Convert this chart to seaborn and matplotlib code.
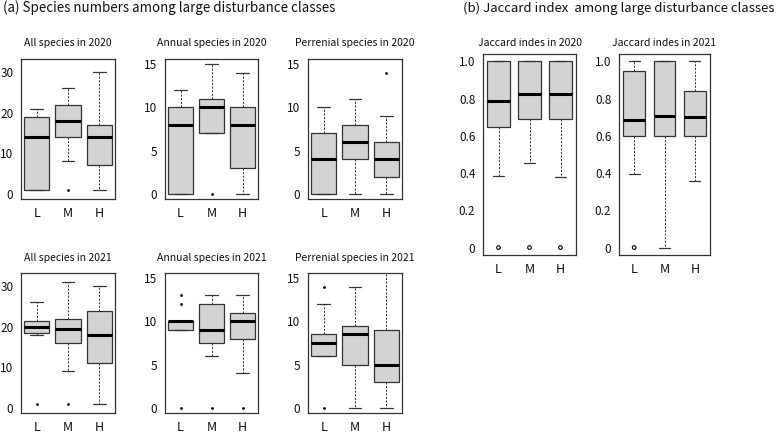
import numpy as np
import pandas as pd
import matplotlib
matplotlib.use("Agg")
import matplotlib.pyplot as plt
import seaborn as sns

# ---------------- data ----------------
classes = ["L", "M", "H"]

# five-number summaries per class L, M, H: [lower whisker, Q1, median, Q3, upper whisker]
all_2020 = [[1, 1, 14, 19, 21], [8, 14, 18, 22, 26], [1, 7, 14, 17, 30]]
all_2020_out = [[], [1], []]
annual_2020 = [[0, 0, 8, 10, 12], [7, 7, 10, 11, 15], [0, 3, 8, 10, 14]]
annual_2020_out = [[], [0], []]
peren_2020 = [[0, 0, 4, 7, 10], [0, 4, 6, 8, 11], [0, 2, 4, 6, 9]]
peren_2020_out = [[], [], [14]]

all_2021 = [[18, 18.5, 20, 21.5, 26], [9, 16, 19.5, 22, 31], [1, 11, 18, 24, 30]]
all_2021_out = [[1], [1], []]
annual_2021 = [[9, 9, 10, 10, 10], [6, 7.5, 9, 12, 13], [4, 8, 10, 11, 13]]
annual_2021_out = [[0, 12, 13], [0], [0]]
peren_2021 = [[6, 6, 7.5, 8.5, 12], [0, 5, 8.5, 9.5, 14], [0, 3, 5, 9, 18]]
peren_2021_out = [[0, 14], [], []]

jac_2020 = [[0.385, 0.65, 0.79, 1.0, 1.0], [0.455, 0.69, 0.825, 1.0, 1.0], [0.38, 0.69, 0.825, 1.0, 1.0]]
jac_2020_out = [[0], [0], [0]]
jac_2021 = [[0.395, 0.60, 0.685, 0.95, 1.0], [0, 0.60, 0.705, 1.0, 1.0], [0.36, 0.60, 0.70, 0.84, 1.0]]
jac_2021_out = [[0], [], []]

titles = ["All species in 2020", "Annual species in 2020", "Perrenial species in 2020",
          "All species in 2021", "Annual species in 2021", "Perrenial species in 2021",
          "Jaccard indes in 2020", "Jaccard indes in 2021"]
heading_a = "(a) Species numbers among large disturbance classes"
heading_b = "(b) Jaccard index  among large disturbance classes"

count_ticks = [0, 5, 10, 15, 20, 25, 30]
count_labels = ["0", "", "10", "", "20", "", "30"]
small_ticks = [0, 5, 10, 15]
small_labels = ["0", "5", "10", "15"]
jac_ticks = [0, 0.2, 0.4, 0.6, 0.8, 1.0]
jac_labels = ["0", "0.2", "0.4", "0.6", "0.8", "1.0"]

# ---------------- style ----------------
sns.set_style("white")
FONT = ["Noto Sans CJK JP", "DejaVu Sans"]
plt.rcParams["font.family"] = FONT

W, H = 777, 433
fig = plt.figure(figsize=(W / 100, H / 100), dpi=100)
EDGE = "#333333"


def add_ax(x0, x1, y0, y1):
    return fig.add_axes([x0 / W, 1 - y1 / H, (x1 - x0) / W, (y1 - y0) / H])


def long_df(summ, out):
    rows = []
    for c, vals in zip(classes, summ):
        for v in vals:
            rows.append((c, v))
    d = pd.DataFrame(rows, columns=["cls", "val"])
    orows = []
    for c, vals in zip(classes, out):
        for v in vals:
            orows.append((c, v))
    o = pd.DataFrame(orows, columns=["cls", "val"])
    return d, o


def panel(ax, summ, out, ylim, ticks, labels, hollow=False, width=0.8):
    d, o = long_df(summ, out)
    sns.boxplot(data=d, x="cls", y="val", order=classes, whis=(0, 100),
                width=width, color="#d3d3d3", saturation=1, linecolor=EDGE,
                linewidth=0.9, showfliers=False, ax=ax,
                medianprops=dict(color="black", linewidth=2.2),
                whiskerprops=dict(color=EDGE, linewidth=0.7, linestyle=(0, (2.2, 1.5))),
                capprops=dict(color=EDGE, linewidth=0.9))
    n_before = len(ax.collections)
    if len(o):
        sns.stripplot(data=o, x="cls", y="val", order=classes, jitter=False,
                      color="black", size=2.6 if hollow else 2.0, ax=ax,
                      linewidth=0.8 if hollow else 0, edgecolor="black")
        if hollow:
            for coll in ax.collections[n_before:]:
                coll.set_facecolor("none")
                coll.set_edgecolor("black")
                coll.set_linewidth(0.8)
    ax.set_xlim(-0.5, 2.5)
    ax.set_ylim(*ylim)
    ax.set_yticks(ticks)
    ax.set_yticklabels(labels)
    ax.set_xticks(range(len(classes)))
    ax.set_xticklabels(classes)
    ax.set_xlabel("")
    ax.set_ylabel("")
    for s in ax.spines.values():
        s.set_visible(True)
        s.set_color(EDGE)
        s.set_linewidth(0.9)
    ax.tick_params(axis="both", direction="out", length=3, width=0.8, colors=EDGE,
                   labelcolor="#111111", labelsize=8.5, pad=2.5)
    ax.tick_params(axis="x", labelsize=9, pad=3)
    for lab in ax.get_xticklabels() + ax.get_yticklabels():
        lab.set_family(FONT)


lim_count = (-1.28, 33.28)
lim_small = (-0.6, 15.6)
lim_jac = (-0.04, 1.04)

specs = [
    ((21, 115, 59, 199), all_2020, all_2020_out, lim_count, count_ticks, count_labels, 16, False, 0.8),
    ((165, 258, 59, 199), annual_2020, annual_2020_out, lim_small, small_ticks, small_labels, 16, False, 0.8),
    ((308, 402, 59, 199), peren_2020, peren_2020_out, lim_small, small_ticks, small_labels, 16, False, 0.8),
    ((21, 115, 273, 413), all_2021, all_2021_out, lim_count, count_ticks, count_labels, 15, False, 0.8),
    ((165, 258, 273, 413), annual_2021, annual_2021_out, lim_small, small_ticks, small_labels, 15, False, 0.8),
    ((308, 402, 273, 413), peren_2021, peren_2021_out, lim_small, small_ticks, small_labels, 15, False, 0.8),
    ((483, 576, 54, 255), jac_2020, jac_2020_out, lim_jac, jac_ticks, jac_labels, 11, True, 0.72),
    ((619, 710, 54, 255), jac_2021, jac_2021_out, lim_jac, jac_ticks, jac_labels, 11, True, 0.72),
]

for (box, summ, out, ylim, ticks, labels, toff, hollow, width), title in zip(specs, titles):
    x0, x1, y0, y1 = box
    ax = add_ax(x0, x1, y0, y1)
    panel(ax, summ, out, ylim, ticks, labels, hollow=hollow, width=width)
    fig.text(((x0 + x1) / 2) / W, 1 - (y0 - toff) / H, title, ha="center", va="center",
             fontsize=7.5, family=FONT, color="#111111")

fig.text(3 / W, 1 - 8 / H, heading_a, ha="left", va="center", fontsize=9.6, family=FONT, color="#111111")
fig.text(463 / W, 1 - 8 / H, heading_b, ha="left", va="center", fontsize=9.5, family=FONT, color="#111111")

fig.savefig("out.png", dpi=100, facecolor="white")
